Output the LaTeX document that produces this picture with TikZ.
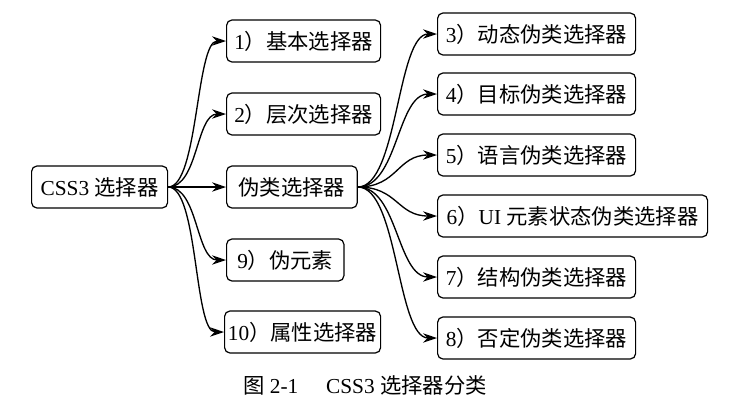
\documentclass[tikz,border=0pt]{standalone}
\usepackage{fontspec}
\setmainfont{Liberation Serif}
\newfontfamily\cjk{Noto Sans CJK SC}
\newcommand{\zh}[1]{{\cjk #1}}
\usetikzlibrary{arrows.meta}

\begin{document}
\begin{tikzpicture}[x=0.75pt,y=0.75pt,yscale=-1,xscale=1,
  box/.style={draw,rounded corners=4pt,line width=0.9pt,minimum height=31.5pt,inner sep=0.75pt,anchor=west,font=\fontsize{16}{19}\selectfont},
  arr/.style={line width=1pt,-{Stealth[length=10.5pt,width=7pt]}}]
\useasboundingbox (0,0) rectangle (753,415);

% root
\node [box,minimum width=102pt] (css) at (31,187) {CSS3 \zh{选择器}};

% first level
\node [box,minimum width=115.5pt] (basic) at (226,41) {1\zh{）基本选择器}};
\node [box,minimum width=115.5pt] (level) at (226,114) {2\zh{）层次选择器}};
\node [box,minimum width=98pt] (pseudo) at (226,187) {\zh{伪类选择器}};
\node [box,minimum width=88pt] (elem) at (226,260) {9\zh{）伪元素}};
\node [box,minimum width=117pt] (attr) at (224,332) {10\zh{）属性选择器}};

% pseudo-classes
\node [box,minimum width=148.5pt] (dyn) at (437,34) {3\zh{）动态伪类选择器}};
\node [box,minimum width=148.5pt] (target) at (437,94) {4\zh{）目标伪类选择器}};
\node [box,minimum width=148.5pt] (lang) at (437,155) {5\zh{）语言伪类选择器}};
\node [box,minimum width=202.5pt] (ui) at (437,216) {6\zh{）}UI \zh{元素状态伪类选择器}};
\node [box,minimum width=148.5pt] (struct) at (437,277) {7\zh{）结构伪类选择器}};
\node [box,minimum width=148.5pt] (neg) at (437,338) {8\zh{）否定伪类选择器}};

% connectors
\draw [arr] (css.east) .. controls +(30,0) and +(-30,0) .. (basic.west);
\draw [arr] (css.east) .. controls +(30,0) and +(-30,0) .. (level.west);
\draw [arr] (css.east) -- (pseudo.west);
\draw [arr] (css.east) .. controls +(30,0) and +(-30,0) .. (elem.west);
\draw [arr] (css.east) .. controls +(30,0) and +(-30,0) .. (attr.west);

\draw [arr] (pseudo.east) .. controls +(40,0) and +(-40,0) .. (dyn.west);
\draw [arr] (pseudo.east) .. controls +(40,0) and +(-40,0) .. (target.west);
\draw [arr] (pseudo.east) .. controls +(40,0) and +(-40,0) .. (lang.west);
\draw [arr] (pseudo.east) .. controls +(40,0) and +(-40,0) .. (ui.west);
\draw [arr] (pseudo.east) .. controls +(40,0) and +(-40,0) .. (struct.west);
\draw [arr] (pseudo.east) .. controls +(40,0) and +(-40,0) .. (neg.west);

% caption
\node [font=\fontsize{16}{19}\selectfont] (cap) at (365,385) {\zh{图} 2-1\hspace{1.3em}CSS3 \zh{选择器分类}};

\end{tikzpicture}
\end{document}
